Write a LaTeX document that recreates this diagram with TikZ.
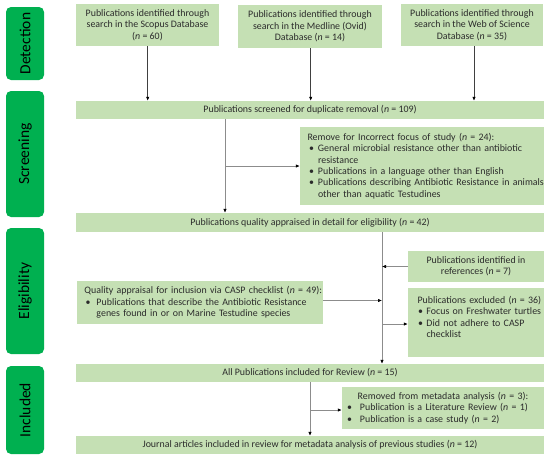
\documentclass[tikz,border=0pt]{standalone}
\usepackage{fontspec}
\setmainfont{Carlito}
\usetikzlibrary{arrows.meta}
\definecolor{boxgreen}{HTML}{C5E0B4}
\definecolor{labgreen}{HTML}{00B050}
\definecolor{linegray}{HTML}{8C8C8C}
\definecolor{darkline}{HTML}{404040}
\definecolor{txt}{HTML}{2B2B2B}
\newcommand\nn{\textit{n}}
\newcommand\bl[3]{\hspace*{#1pt}\makebox[\dimexpr#2pt-#1pt\relax][l]{\textbullet}\mbox{#3}}
\newcommand\cn[2]{\hspace*{#1pt}\mbox{#2}}
\begin{document}
\begin{tikzpicture}[x=1pt,y=-1pt,
 box/.style={fill=boxgreen, text=txt, inner ysep=0pt, font=\fontsize{9.9}{11.3}\selectfont},
 cbox/.style={box, align=center, inner xsep=2pt},
 lbox/.style={box, align=left},
 phase/.style={fill=labgreen, text=black, rounded corners=5pt, rotate=90, inner sep=0pt,
   font=\fontsize{15.5}{18}\selectfont, minimum height=38pt},
 arr/.style={draw=linegray, line width=0.7pt, -{Latex[length=4pt,width=3.4pt,color=black]}},
 darr/.style={arr, draw=darkline}]
\useasboundingbox (0,0) rectangle (550,459);

% phase labels
\node[phase, minimum width=73pt]  (det) at (25,43.5) {Detection};
\node[phase, minimum width=126pt] (scr) at (25,154)  {Screening};
\node[phase, minimum width=126pt] (eli) at (25,291)  {Eligibility};
\node[phase, minimum width=88pt]  (inc) at (25,410)  {Included};

% detection boxes
\node[cbox, minimum width=143pt, minimum height=42pt] (scopus) at (147.5,25)
  {Publications identified through\\search in the Scopus Database\\(\nn{} = 60)};
\node[cbox, minimum width=144pt, minimum height=43pt] (medline) at (310,26.5)
  {Publications identified through\\search in the Medline (Ovid)\\Database (\nn{} = 14)};
\node[cbox, minimum width=142pt, minimum height=42pt] (wos) at (472,25)
  {Publications identified through\\search in the Web of Science\\Database (\nn{} = 35)};

% screening
\node[cbox, minimum width=468pt, minimum height=18pt] (screened) at (310,110)
  {Publications screened for duplicate removal (\nn{} = 109)};
\node[lbox, minimum width=244pt, minimum height=78pt, inner xsep=7.5pt, text width=229pt] (removal) at (422,166)
  {\mbox{Remove for Incorrect focus of study (\nn{} = 24):}\\
   \bl{1.5}{10.5}{General microbial resistance other than antibiotic}\\
   \cn{10.5}{resistance}\\
   \bl{1.5}{10.5}{Publications in a language other than English}\\
   \bl{1.5}{10.5}{Publications describing Antibiotic Resistance in animals}\\
   \cn{10.5}{other than aquatic Testudines}};
\node[cbox, minimum width=468pt, minimum height=19pt] (quality) at (310,222.5)
  {Publications quality appraised in detail for eligibility (\nn{} = 42)};

% eligibility
\node[cbox, minimum width=136pt, minimum height=31pt] (refs) at (476,266.5)
  {Publications identified in\\references (\nn{} = 7)};
\node[lbox, minimum width=246pt, minimum height=43pt, inner xsep=7.2pt, text width=231pt] (casp) at (200,302.5)
  {\mbox{Quality appraisal for inclusion via CASP checklist (\nn{} = 49):}\\
   \bl{1.2}{12}{Publications that describe the Antibiotic Resistance}\\
   \cn{12}{genes found in or on Marine Testudine species}};
\node[lbox, minimum width=136pt, minimum height=69pt, inner xsep=9.3pt, text width=117pt] (excl) at (476,322.5)
  {\mbox{Publications excluded (\nn{} = 36)}\\
   \bl{0.5}{9}{Focus on Freshwater turtles}\\
   \bl{0.5}{9}{Did not adhere to CASP}\\
   \cn{9}{checklist}\\
   \mbox{}};

% included
\node[cbox, minimum width=468pt, minimum height=18pt] (all) at (310,373)
  {All Publications included for Review (\nn{} = 15)};
\node[lbox, minimum width=202pt, minimum height=42pt, inner xsep=5pt, text width=192pt] (removed) at (443,408)
  {\makebox[192pt][c]{Removed from metadata analysis (\nn{} = 3):}\\
   \bl{0}{13}{Publication is a Literature Review (\nn{} = 1)}\\
   \bl{0}{13}{Publication is a case study (\nn{} = 2)}};
\node[cbox, minimum width=468pt, minimum height=18pt] (journal) at (310,445)
  {Journal articles included in review for metadata analysis of previous studies (\nn{} = 12)};

% connectors: detection -> screening
\draw[darr] ([xshift=0.2pt]scopus.south) -- ([xshift=0.2pt]scopus.south |- screened.north);
\draw[darr] ([xshift=0.7pt]medline.south) -- ([xshift=0.7pt]medline.south |- screened.north);
\draw[darr] ([xshift=2pt]wos.south) -- ([xshift=2pt]wos.south |- screened.north);

% screening
\coordinate (s1) at (225,166);
\draw[arr] (s1 |- screened.south) -- (s1 |- quality.north);
\draw[arr] (s1) -- (s1 -| removal.west);

% eligibility
\coordinate (s2) at (382,0);
\draw[arr] (s2 |- quality.south) -- (s2 |- all.north);
\draw[arr] (refs.west) -- (refs.west -| s2);
\draw[arr] ([yshift=2pt]casp.east) -- ([yshift=2pt]casp.east -| s2);
\coordinate (s3) at (382,324);
\draw[arr] (s3) -- (s3 -| excl.west);

% included
\coordinate (s4) at (310,410);
\draw[arr] (s4 |- all.south) -- (s4 |- journal.north);
\draw[arr] (s4) -- (s4 -| removed.west);
\end{tikzpicture}
\end{document}
